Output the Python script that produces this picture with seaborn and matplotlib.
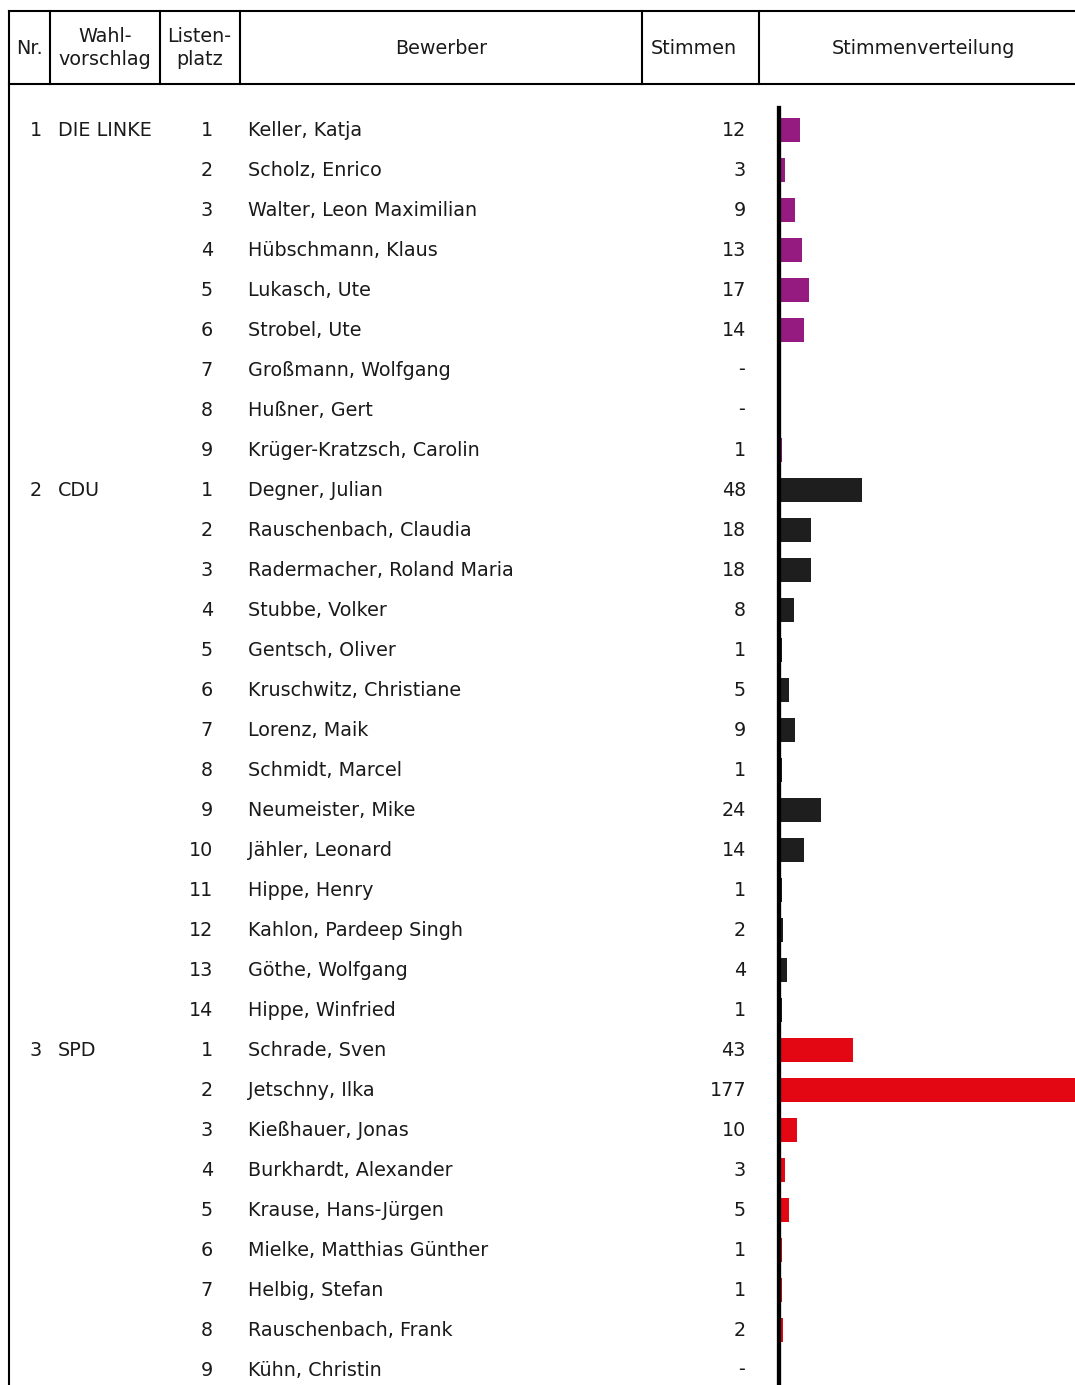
import os

os.environ.setdefault("MPLCONFIGDIR", "/tmp/matplotlib")

import matplotlib

matplotlib.use("Agg")
import matplotlib.pyplot as plt
import pandas as pd
import seaborn as sns
from matplotlib.transforms import blended_transform_factory

# --- data -------------------------------------------------------------------
parties = ["DIE LINKE", "CDU", "SPD"]
party_colors = ["#951B81", "#1E1E1E", "#E30613"]

linke_names = [
    "Keller, Katja", "Scholz, Enrico", "Walter, Leon Maximilian",
    "Hübschmann, Klaus", "Lukasch, Ute", "Strobel, Ute",
    "Großmann, Wolfgang", "Hußner, Gert", "Krüger-Kratzsch, Carolin",
]
linke_votes = [12, 3, 9, 13, 17, 14, None, None, 1]

cdu_names = [
    "Degner, Julian", "Rauschenbach, Claudia", "Radermacher, Roland Maria",
    "Stubbe, Volker", "Gentsch, Oliver", "Kruschwitz, Christiane",
    "Lorenz, Maik", "Schmidt, Marcel", "Neumeister, Mike", "Jähler, Leonard",
    "Hippe, Henry", "Kahlon, Pardeep Singh", "Göthe, Wolfgang",
    "Hippe, Winfried",
]
cdu_votes = [48, 18, 18, 8, 1, 5, 9, 1, 24, 14, 1, 2, 4, 1]

spd_names = [
    "Schrade, Sven", "Jetschny, Ilka", "Kießhauer, Jonas",
    "Burkhardt, Alexander", "Krause, Hans-Jürgen", "Mielke, Matthias Günther",
    "Helbig, Stefan", "Rauschenbach, Frank", "Kühn, Christin",
]
spd_votes = [43, 177, 10, 3, 5, 1, 1, 2, None]

header_labels = ["Nr.", "Wahl-\nvorschlag", "Listen-\nplatz", "Bewerber",
                 "Stimmen", "Stimmenverteilung"]

rows = []
for nr, (party, names, votes) in enumerate(
    zip(parties, [linke_names, cdu_names, spd_names],
        [linke_votes, cdu_votes, spd_votes]), start=1):
    for platz, (name, v) in enumerate(zip(names, votes), start=1):
        rows.append({"nr": nr, "party": party, "platz": platz,
                     "name": name, "votes": v})
df = pd.DataFrame(rows)
df["bar"] = df["votes"].fillna(0)

# --- layout (pixels) ----------------------------------------------------------
W, H = 1075, 1385
TEXT = "#1A1A1A"
FS = 13.8
plt.rcParams["font.family"] = ["DejaVu Sans"]

fig = plt.figure(figsize=(W / 100, H / 100), dpi=100)
bg = fig.add_axes([0, 0, 1, 1])
bg.set_xlim(0, W)
bg.set_ylim(H, 0)
bg.axis("off")

bar_x0, axis_top = 780, 108
ax = fig.add_axes([bar_x0 / W, 0, (W - bar_x0) / W, (H - axis_top) / H])
ax.patch.set_alpha(0)

sns.barplot(
    data=df, x="bar", y="name", hue="party", order=list(df["name"]),
    hue_order=parties, palette=dict(zip(parties, party_colors)),
    orient="h", dodge=False, width=0.62, saturation=1, legend=False, ax=ax,
)
ax.set_ylim((H - 130) / 40, -(130 - axis_top) / 40)
ax.set_xlim(0, (W - bar_x0) / 1.70)
for side in ["top", "right", "bottom"]:
    ax.spines[side].set_visible(False)
ax.spines["left"].set_linewidth(3.1)
ax.spines["left"].set_color("black")
ax.spines["left"].set_position(("outward", 0.75))
ax.spines["left"].set_zorder(5)
ax.set_xticks([])
ax.set_yticks([])
ax.set_xlabel("")
ax.set_ylabel("")

# --- header grid --------------------------------------------------------------
lw = 1.5
bg.plot([9, W], [11, 11], color="black", lw=lw)
bg.plot([9, W], [84, 84], color="black", lw=lw)
bg.plot([9, 9], [11, H], color="black", lw=lw)
for x in [50, 160, 240, 642, 759]:
    bg.plot([x, x], [11, 84], color="black", lw=lw)

for x, label in zip([29.5, 105, 199.5, 441, 694, 923], header_labels):
    bg.text(x, 48, label, ha="center", va="center", multialignment="center",
            fontsize=FS, color=TEXT, linespacing=1.3)

# --- table rows ---------------------------------------------------------------
tr = blended_transform_factory(bg.transData, ax.transData)
for i, r in df.iterrows():
    kw = dict(transform=tr, va="center", fontsize=FS, color=TEXT)
    if r["platz"] == 1:
        bg.text(42, i, str(r["nr"]), ha="right", **kw)
        bg.text(58, i, r["party"], ha="left", **kw)
    bg.text(213, i, str(r["platz"]), ha="right", **kw)
    bg.text(248, i, r["name"], ha="left", **kw)
    votes = "-" if pd.isna(r["votes"]) else str(int(r["votes"]))
    bg.text(746 if votes != "-" else 745, i, votes, ha="right", **kw)

fig.savefig("out.png", dpi=100)
